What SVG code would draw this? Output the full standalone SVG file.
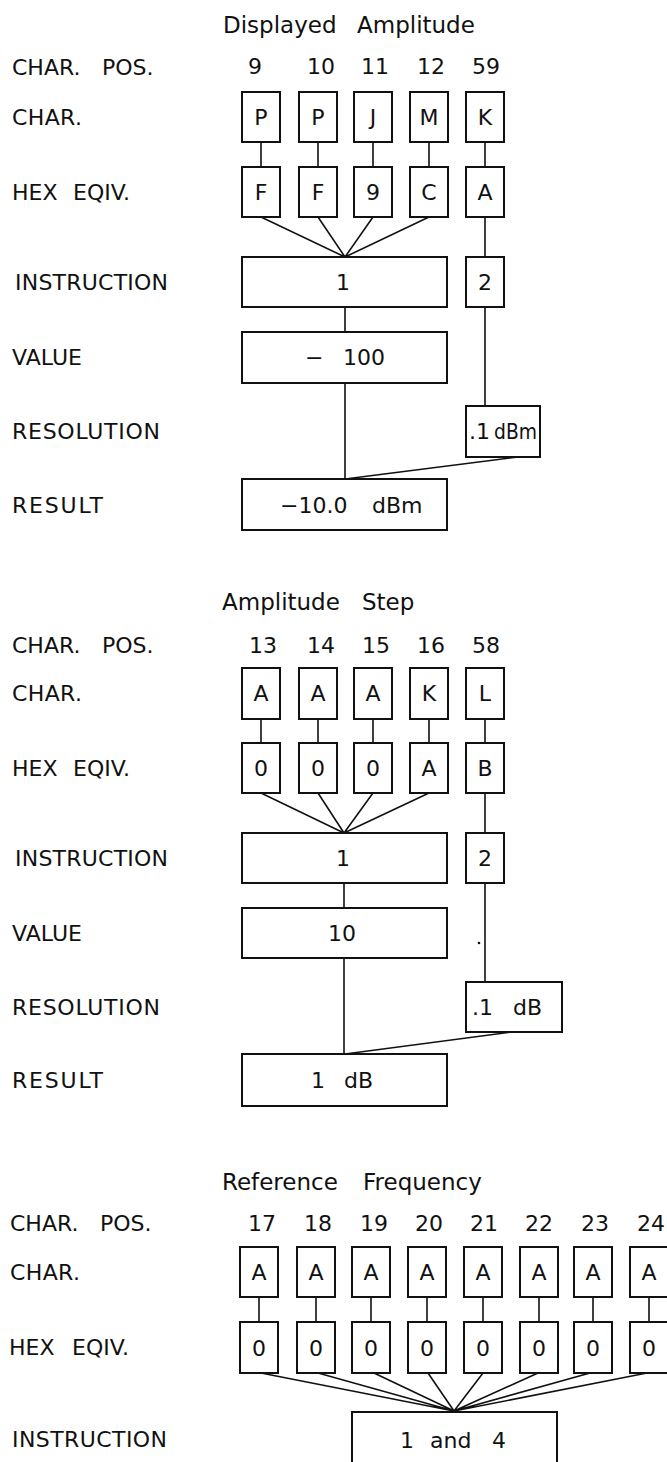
<svg xmlns="http://www.w3.org/2000/svg" width="667" height="1462" viewBox="0 0 667 1462">
<style>
text{font-family:"DejaVu Sans","Liberation Sans",Arial,sans-serif;font-size:22px;fill:#111}
.t{font-size:23px}
.c{text-anchor:middle}
.b{fill:#fff;stroke:#111;stroke-width:2}
.ln{stroke:#111;stroke-width:1.6;fill:none}
</style>
<rect width="667" height="1462" fill="#fff"/>

<!-- ============ Section 1: Displayed Amplitude ============ -->
<g id="sec1-labels">
<text class="t" y="33"><tspan x="223">Displayed</tspan><tspan x="357">Amplitude</tspan></text>
<text y="75"><tspan x="12">CHAR.</tspan><tspan x="102">POS.</tspan></text>
<text x="12" y="125" textLength="70" lengthAdjust="spacing">CHAR.</text>
<text y="200"><tspan x="12">HEX</tspan><tspan x="73">EQIV.</tspan></text>
<text x="15" y="290" textLength="153" lengthAdjust="spacing">INSTRUCTION</text>
<text x="12" y="365" textLength="70" lengthAdjust="spacing">VALUE</text>
<text x="12" y="439" textLength="148" lengthAdjust="spacing">RESOLUTION</text>
<text x="12" y="513" textLength="91" lengthAdjust="spacing">RESULT</text>
<text class="c" x="255" y="74">9</text>
<text class="c" x="321" y="74">10</text>
<text class="c" x="375" y="74">11</text>
<text class="c" x="431" y="74">12</text>
<text class="c" x="486" y="74">59</text>
</g>
<g id="s1-connectors">
<path class="ln" d="M261 142V167M318 142V167M373 142V167M429 142V167M485 142V167"/>
<path class="ln" d="M261 217L345 257M318 217L345 257M373 217L345 257M429 217L345 257"/>
<path class="ln" d="M485 217V257M485 307V406"/>
<path class="ln" d="M345 307V332M345 383V479"/>
<path class="ln" d="M518 457L345 479"/>
</g>
<g id="s1-c9"><rect class="b" x="242" y="92" width="38" height="50"/><text class="c" x="261" y="125">P</text></g>
<g id="s1-c10"><rect class="b" x="299" y="92" width="38" height="50"/><text class="c" x="318" y="125">P</text></g>
<g id="s1-c11"><rect class="b" x="354" y="92" width="38" height="50"/><text class="c" x="373" y="125">J</text></g>
<g id="s1-c12"><rect class="b" x="410" y="92" width="38" height="50"/><text class="c" x="429" y="125">M</text></g>
<g id="s1-c59"><rect class="b" x="466" y="92" width="38" height="50"/><text class="c" x="485" y="125">K</text></g>
<g id="s1-h9"><rect class="b" x="242" y="167" width="38" height="50"/><text class="c" x="261" y="200">F</text></g>
<g id="s1-h10"><rect class="b" x="299" y="167" width="38" height="50"/><text class="c" x="318" y="200">F</text></g>
<g id="s1-h11"><rect class="b" x="354" y="167" width="38" height="50"/><text class="c" x="373" y="200">9</text></g>
<g id="s1-h12"><rect class="b" x="410" y="167" width="38" height="50"/><text class="c" x="429" y="200">C</text></g>
<g id="s1-h59"><rect class="b" x="466" y="167" width="38" height="50"/><text class="c" x="485" y="200">A</text></g>
<g id="s1-instr1"><rect class="b" x="242" y="257" width="205" height="50"/><text class="c" x="343" y="290">1</text></g>
<g id="s1-instr2"><rect class="b" x="466" y="257" width="38" height="50"/><text class="c" x="485" y="290">2</text></g>
<g id="s1-value"><rect class="b" x="242" y="332" width="205" height="51"/><text y="365"><tspan x="305">−</tspan><tspan x="343">100</tspan></text></g>
<g id="s1-res"><rect class="b" x="466" y="406" width="74" height="51"/><text y="439"><tspan x="469">.</tspan><tspan x="476">1</tspan><tspan x="494" textLength="43" lengthAdjust="spacingAndGlyphs">dBm</tspan></text></g>
<g id="s1-result"><rect class="b" x="242" y="479" width="205" height="51"/><text y="513"><tspan x="280">−10.0</tspan><tspan x="372">dBm</tspan></text></g>

<!-- ============ Section 2: Amplitude Step ============ -->
<g id="sec2-labels">
<text class="t" y="610"><tspan x="222">Amplitude</tspan><tspan x="362">Step</tspan></text>
<text y="653"><tspan x="12">CHAR.</tspan><tspan x="102">POS.</tspan></text>
<text x="12" y="701" textLength="70" lengthAdjust="spacing">CHAR.</text>
<text y="776"><tspan x="12">HEX</tspan><tspan x="73">EQIV.</tspan></text>
<text x="15" y="866" textLength="153" lengthAdjust="spacing">INSTRUCTION</text>
<text x="12" y="941" textLength="70" lengthAdjust="spacing">VALUE</text>
<text x="12" y="1015" textLength="148" lengthAdjust="spacing">RESOLUTION</text>
<text x="12" y="1088" textLength="91" lengthAdjust="spacing">RESULT</text>
<text class="c" x="263" y="653">13</text>
<text class="c" x="321" y="653">14</text>
<text class="c" x="376" y="653">15</text>
<text class="c" x="431" y="653">16</text>
<text class="c" x="486" y="653">58</text>
</g>
<g id="s2-connectors">
<path class="ln" d="M261 719V743M318 719V743M373 719V743M429 719V743M485 719V743"/>
<path class="ln" d="M261 793L344 833M318 793L344 833M373 793L344 833M429 793L344 833"/>
<path class="ln" d="M485 793V833M485 883V982"/>
<path class="ln" d="M344 883V908M344 958V1054"/>
<path class="ln" d="M512 1032L345 1054"/>
<circle cx="479" cy="943" r="1.3" fill="#111"/>
</g>
<g id="s2-c13"><rect class="b" x="242" y="668" width="38" height="51"/><text class="c" x="261" y="701">A</text></g>
<g id="s2-c14"><rect class="b" x="299" y="668" width="38" height="51"/><text class="c" x="318" y="701">A</text></g>
<g id="s2-c15"><rect class="b" x="354" y="668" width="38" height="51"/><text class="c" x="373" y="701">A</text></g>
<g id="s2-c16"><rect class="b" x="410" y="668" width="38" height="51"/><text class="c" x="429" y="701">K</text></g>
<g id="s2-c58"><rect class="b" x="466" y="668" width="38" height="51"/><text class="c" x="485" y="701">L</text></g>
<g id="s2-h13"><rect class="b" x="242" y="743" width="38" height="50"/><text class="c" x="261" y="776">0</text></g>
<g id="s2-h14"><rect class="b" x="299" y="743" width="38" height="50"/><text class="c" x="318" y="776">0</text></g>
<g id="s2-h15"><rect class="b" x="354" y="743" width="38" height="50"/><text class="c" x="373" y="776">0</text></g>
<g id="s2-h16"><rect class="b" x="410" y="743" width="38" height="50"/><text class="c" x="429" y="776">A</text></g>
<g id="s2-h58"><rect class="b" x="466" y="743" width="38" height="50"/><text class="c" x="485" y="776">B</text></g>
<g id="s2-instr1"><rect class="b" x="242" y="833" width="205" height="50"/><text class="c" x="343" y="866">1</text></g>
<g id="s2-instr2"><rect class="b" x="466" y="833" width="38" height="50"/><text class="c" x="485" y="866">2</text></g>
<g id="s2-value"><rect class="b" x="242" y="908" width="205" height="50"/><text class="c" x="342" y="941">10</text></g>
<g id="s2-res"><rect class="b" x="466" y="982" width="96" height="50"/><text y="1015"><tspan x="472">.</tspan><tspan x="479">1</tspan><tspan x="513">dB</tspan></text></g>
<g id="s2-result"><rect class="b" x="242" y="1054" width="205" height="52"/><text y="1088"><tspan x="311">1</tspan><tspan x="344">dB</tspan></text></g>

<!-- ============ Section 3: Reference Frequency ============ -->
<g id="sec3-labels">
<text class="t" y="1190"><tspan x="222">Reference</tspan><tspan x="363">Frequency</tspan></text>
<text y="1231"><tspan x="10">CHAR.</tspan><tspan x="100">POS.</tspan></text>
<text x="10" y="1280" textLength="70" lengthAdjust="spacing">CHAR.</text>
<text y="1355"><tspan x="9">HEX</tspan><tspan x="72">EQIV.</tspan></text>
<text x="12" y="1447" textLength="155" lengthAdjust="spacing">INSTRUCTION</text>
<text class="c" x="262" y="1231">17</text>
<text class="c" x="318" y="1231">18</text>
<text class="c" x="374" y="1231">19</text>
<text class="c" x="429" y="1231">20</text>
<text class="c" x="484" y="1231">21</text>
<text class="c" x="539" y="1231">22</text>
<text class="c" x="595" y="1231">23</text>
<text class="c" x="651" y="1231">24</text>
</g>
<g id="s3-connectors">
<path class="ln" d="M259 1297V1322M316 1297V1322M371 1297V1322M427 1297V1322M483 1297V1322M539 1297V1322M593 1297V1322M649 1297V1322"/>
<path class="ln" d="M261 1373L454 1411M318 1373L454 1411M374 1373L454 1411M428 1373L454 1411M483 1373L454 1411M538 1373L454 1411M590 1373L454 1411M647 1373L454 1411"/>
<path class="ln" d="M266 1358L264 1365"/>
</g>
<g id="s3-c17"><rect class="b" x="240" y="1247" width="38" height="50"/><text class="c" x="259" y="1280">A</text></g>
<g id="s3-c18"><rect class="b" x="297" y="1247" width="38" height="50"/><text class="c" x="316" y="1280">A</text></g>
<g id="s3-c19"><rect class="b" x="352" y="1247" width="38" height="50"/><text class="c" x="371" y="1280">A</text></g>
<g id="s3-c20"><rect class="b" x="408" y="1247" width="38" height="50"/><text class="c" x="427" y="1280">A</text></g>
<g id="s3-c21"><rect class="b" x="464" y="1247" width="38" height="50"/><text class="c" x="483" y="1280">A</text></g>
<g id="s3-c22"><rect class="b" x="520" y="1247" width="38" height="50"/><text class="c" x="539" y="1280">A</text></g>
<g id="s3-c23"><rect class="b" x="574" y="1247" width="38" height="50"/><text class="c" x="593" y="1280">A</text></g>
<g id="s3-c24"><rect class="b" x="630" y="1247" width="38" height="50"/><text class="c" x="649" y="1280">A</text></g>
<g id="s3-h17"><rect class="b" x="240" y="1322" width="38" height="51"/><text class="c" x="259" y="1356">0</text></g>
<g id="s3-h18"><rect class="b" x="297" y="1322" width="38" height="51"/><text class="c" x="316" y="1356">0</text></g>
<g id="s3-h19"><rect class="b" x="352" y="1322" width="38" height="51"/><text class="c" x="371" y="1356">0</text></g>
<g id="s3-h20"><rect class="b" x="408" y="1322" width="38" height="51"/><text class="c" x="427" y="1356">0</text></g>
<g id="s3-h21"><rect class="b" x="464" y="1322" width="38" height="51"/><text class="c" x="483" y="1356">0</text></g>
<g id="s3-h22"><rect class="b" x="520" y="1322" width="38" height="51"/><text class="c" x="539" y="1356">0</text></g>
<g id="s3-h23"><rect class="b" x="574" y="1322" width="38" height="51"/><text class="c" x="593" y="1356">0</text></g>
<g id="s3-h24"><rect class="b" x="630" y="1322" width="38" height="51"/><text class="c" x="649" y="1356">0</text></g>
<g id="s3-instr"><rect class="b" x="352" y="1412" width="205" height="70"/><text y="1448"><tspan x="400">1</tspan><tspan x="430">and</tspan><tspan x="492">4</tspan></text></g>
</svg>
